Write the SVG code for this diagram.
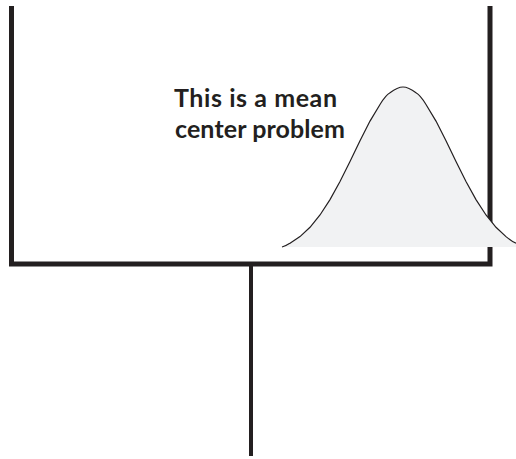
<svg xmlns="http://www.w3.org/2000/svg" width="516" height="459" viewBox="0 0 516 459">
<style>
.frame{fill:none;stroke:#231f20;stroke-width:5;stroke-linejoin:miter;stroke-linecap:butt}
.stem{fill:none;stroke:#231f20;stroke-width:4}
.bell{fill:#f1f2f3;stroke:none}
.curve{fill:none;stroke:#231f20;stroke-width:1.2}
.lbl{font-family:Lato,"Open Sans","Liberation Sans",sans-serif;font-weight:bold;font-size:25px;fill:#231f20}
</style>
<g id="connectors">
<path class="frame" d="M11.5,6 V264 H490 V6"/>
<path class="stem" d="M251,264 V456"/>
</g>
<g id="bell-curve">
<path class="bell" d="M282,247 L290,243.2 L300,236.6 L310,227.3 L320,215 L330,199.6 L340,181.5 L350,161.4 L360,140.7 L370,121.1 L380,104.5 L390,92.8 L395,89.2 L403,87 L411,89.2 L416,92.8 L426,104.5 L436,121.1 L446,140.7 L456,161.4 L466,181.5 L476,199.6 L486,215 L496,227.3 L506,236.6 L516,243.2 L516,247 Z"/>
<path class="curve" d="M282,247 C286,246 288,244.5 290,243.2 L300,236.6 L310,227.3 L320,215 L330,199.6 L340,181.5 L350,161.4 L360,140.7 L370,121.1 L380,104.5 C384,98 387,94.5 390,92.8 C395,89 399,87 403,87 C407,87 411,89 416,92.8 C419,94.5 422,98 426,104.5 L436,121.1 L446,140.7 L456,161.4 L466,181.5 L476,199.6 L486,215 L496,227.3 L506,236.6 C510,240 513,242 516,243.2"/>
</g>
<g id="label">
<text class="lbl" x="174" y="107" textLength="163" lengthAdjust="spacing">This is a mean</text>
<text class="lbl" x="175" y="138" textLength="170" lengthAdjust="spacing">center problem</text>
</g>
</svg>
